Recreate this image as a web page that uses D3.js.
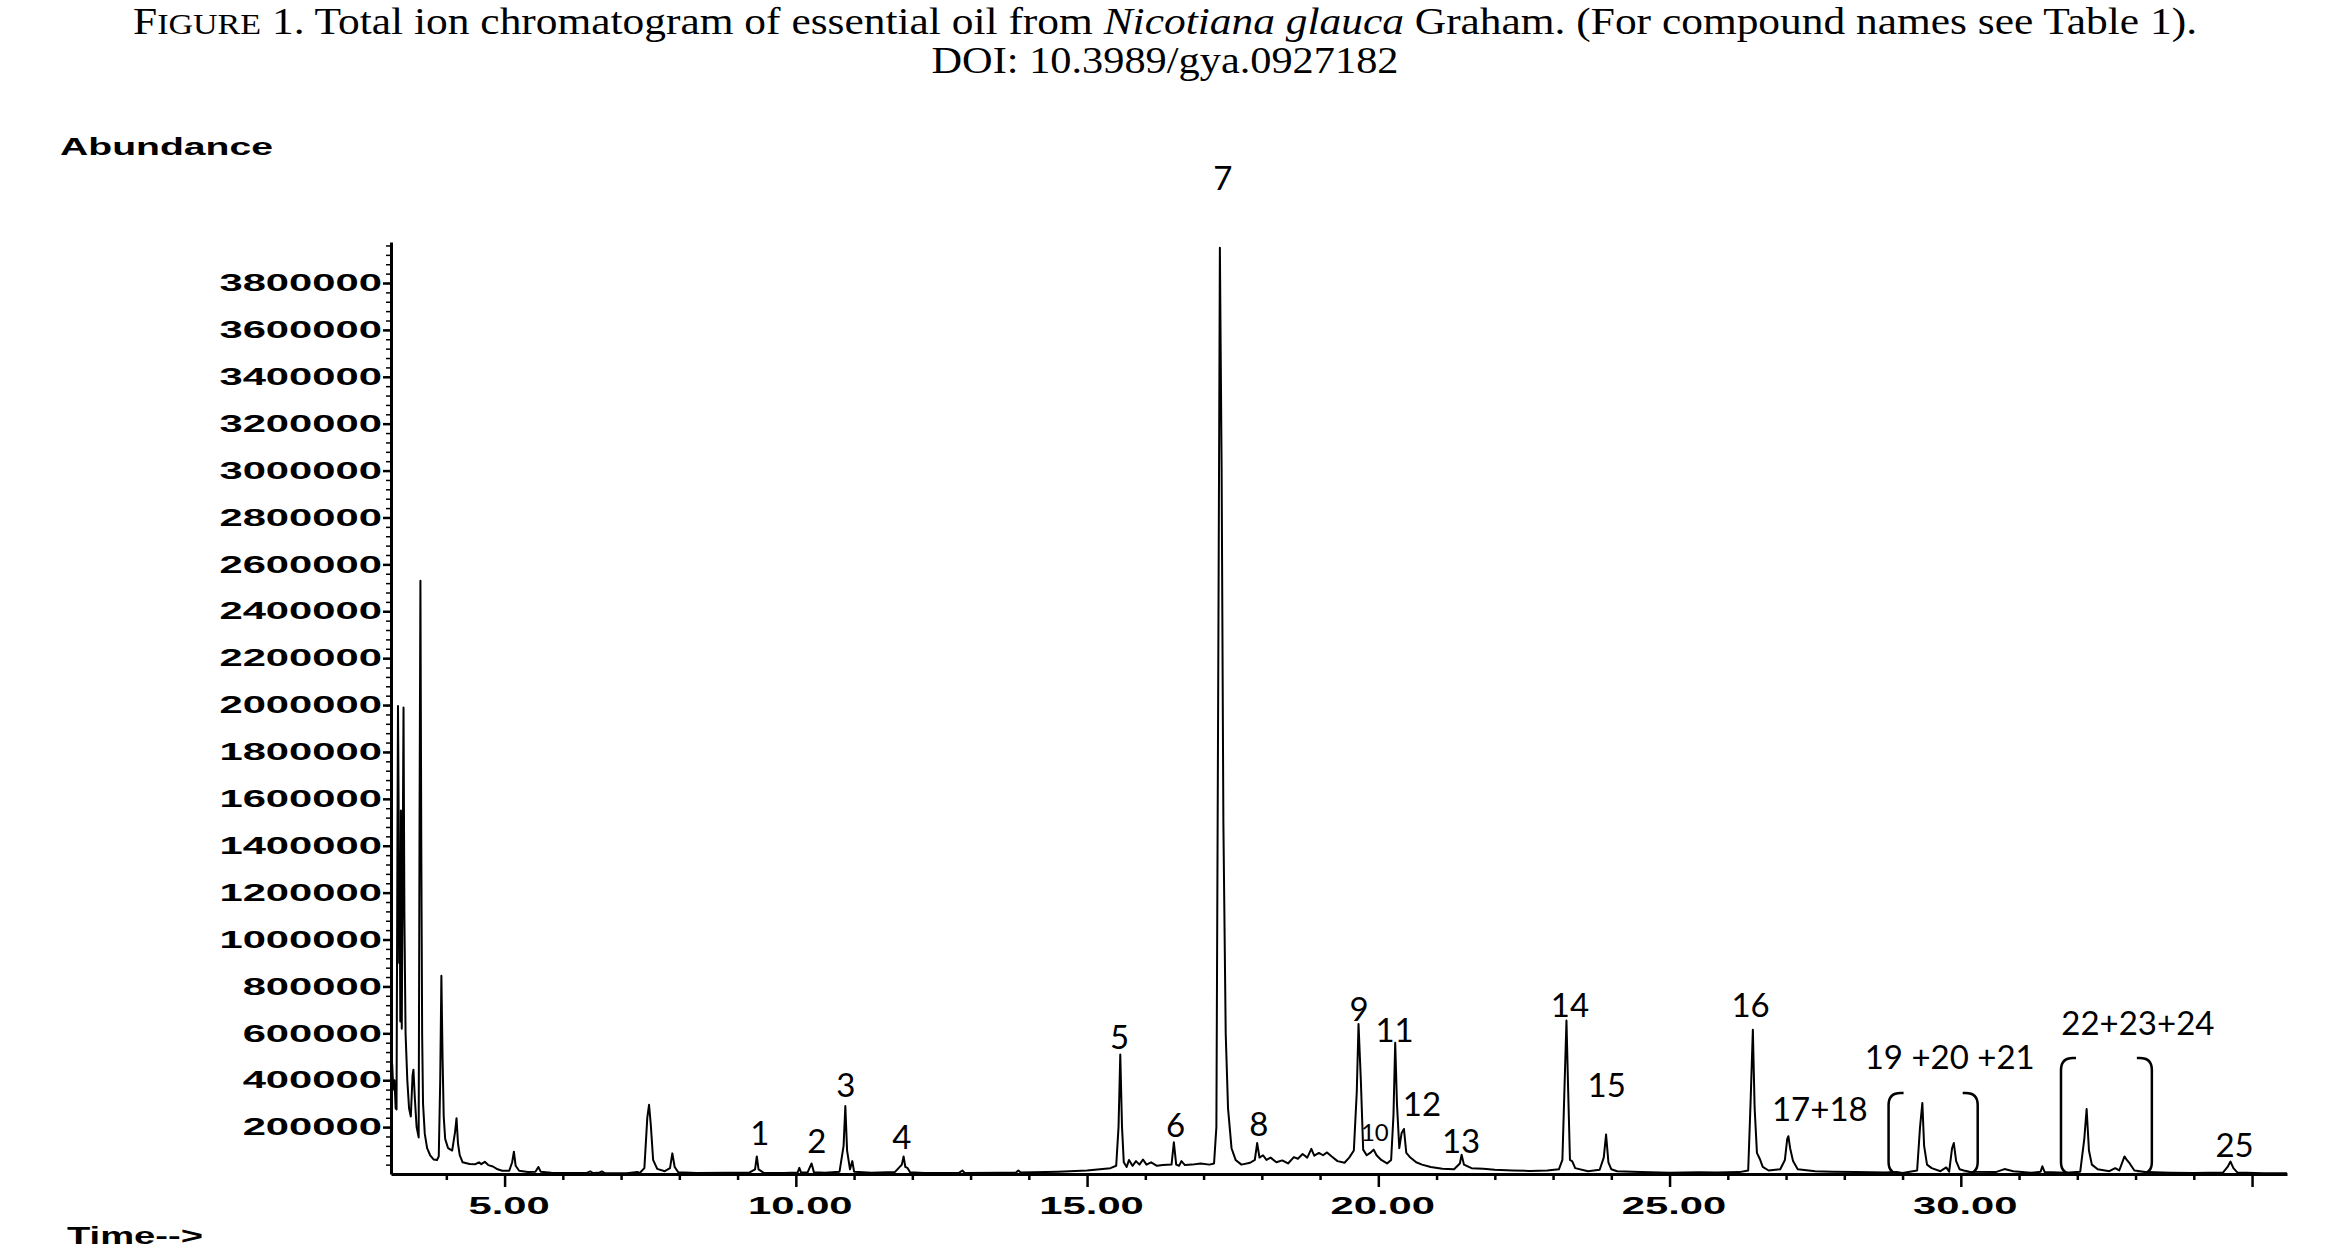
<!DOCTYPE html>
<html><head><meta charset="utf-8">
<script src="https://cdn.jsdelivr.net/npm/d3@7"></script>
<style>
html,body{margin:0;padding:0;background:#fff;}
svg{display:block;}
</style></head><body>
<svg id="chart" width="2330" height="1253"></svg>
<script>
// ---------- DATA ----------
const titleLine2 = "DOI: 10.3989/gya.0927182";
const yAxisTitle = "Abundance";
const xAxisTitle = "Time-->";
const yTickValues = [200000,400000,600000,800000,1000000,1200000,1400000,1600000,1800000,2000000,
  2200000,2400000,2600000,2800000,3000000,3200000,3400000,3600000,3800000];
const yAxisMax = 3975000;
const xDomain = [3.05, 35.6];
const xMajorTicks = [5,10,15,20,25,30,35];
const xTickLabels = ["5.00","10.00","15.00","20.00","25.00","30.00",""];
const xMinorTicks = [4,6,7,8,9,11,12,13,14,16,17,18,19,21,22,23,24,26,27,28,29,31,32,33,34];

// chromatogram trace: [retention time (min), abundance]
const chromatogram = [
 [3.05,420000],[3.07,470000],[3.09,360000],[3.11,400000],[3.13,280000],[3.145,275000],[3.16,1400000],
 [3.17,1996000],[3.18,1600000],[3.19,900000],[3.20,1200000],[3.21,650000],[3.22,1550000],[3.235,620000],
 [3.25,1300000],[3.265,1990000],[3.28,1100000],[3.30,600000],[3.33,400000],[3.36,280000],[3.39,245000],
 [3.42,420000],[3.435,445000],[3.46,320000],[3.49,200000],[3.525,156000],[3.54,1500000],[3.555,2530000],
 [3.57,1400000],[3.585,590000],[3.60,300000],[3.63,171000],[3.67,110000],[3.72,81000],[3.78,62000],
 [3.84,60000],[3.87,75000],[3.895,400000],[3.915,845000],[3.935,500000],[3.955,245000],[3.98,150000],
 [4.03,110000],[4.10,100000],[4.15,180000],[4.175,238000],[4.20,130000],[4.23,81000],[4.28,50000],
 [4.40,43000],[4.50,42000],[4.56,50000],[4.60,42000],[4.66,52000],[4.72,38000],[4.80,32000],[4.88,20000],
 [4.96,14000],[5.08,14000],[5.13,50000],[5.16,95000],[5.19,35000],[5.25,14000],[5.40,9000],[5.53,10000],
 [5.58,30000],[5.62,10000],[5.80,5000],[6.00,4000],[6.40,4000],[6.47,11000],[6.52,4000],[6.62,5000],
 [6.67,11000],[6.72,4000],[7.10,3000],[7.28,9000],[7.32,4000],[7.40,25000],[7.45,240000],[7.48,295000],
 [7.51,210000],[7.55,60000],[7.62,22000],[7.75,12000],[7.84,25000],[7.88,88000],[7.92,30000],[7.98,8000],
 [8.30,4000],[8.80,5000],[9.20,6000],[9.30,20000],[9.33,75000],[9.36,20000],[9.45,5000],[9.80,4000],
 [10.03,6000],[10.06,26000],[10.09,6000],[10.20,6000],[10.27,45000],[10.31,8000],[10.50,5000],[10.75,10000],
 [10.82,120000],[10.85,290000],[10.88,100000],[10.93,20000],[10.97,55000],[11.00,10000],[11.30,5000],
 [11.70,8000],[11.82,40000],[11.85,75000],[11.88,30000],[11.92,25000],[11.96,8000],[12.20,4000],
 [12.80,5000],[12.86,15000],[12.90,4000],[13.50,5000],[13.78,6000],[13.82,15000],[13.86,6000],
 [14.50,10000],[15.00,15000],[15.40,25000],[15.50,35000],[15.54,200000],[15.57,510000],[15.60,200000],
 [15.63,50000],[15.68,30000],[15.72,60000],[15.78,35000],[15.84,55000],[15.90,40000],[15.96,62000],
 [16.02,40000],[16.10,50000],[16.20,35000],[16.30,38000],[16.45,40000],[16.49,135000],[16.53,40000],
 [16.58,35000],[16.62,55000],[16.68,38000],[16.80,40000],[16.95,45000],[17.10,40000],[17.18,45000],
 [17.22,200000],[17.25,2000000],[17.28,3950000],[17.31,3000000],[17.34,1500000],[17.38,600000],
 [17.42,280000],[17.48,110000],[17.55,60000],[17.65,40000],[17.80,48000],[17.88,60000],[17.92,132000],
 [17.96,70000],[18.02,80000],[18.08,60000],[18.15,70000],[18.25,50000],[18.35,58000],[18.45,45000],
 [18.55,72000],[18.62,65000],[18.70,85000],[18.78,70000],[18.85,107000],[18.90,78000],[18.98,90000],
 [19.05,80000],[19.12,92000],[19.20,75000],[19.30,55000],[19.42,48000],[19.50,70000],[19.58,100000],
 [19.63,350000],[19.66,640000],[19.70,400000],[19.74,104000],[19.80,80000],[19.86,90000],[19.92,104000],
 [19.97,80000],[20.05,60000],[20.15,45000],[20.22,60000],[20.26,250000],[20.29,560000],[20.32,300000],
 [20.36,110000],[20.40,175000],[20.44,192000],[20.48,90000],[20.55,70000],[20.65,50000],[20.75,40000],
 [20.90,30000],[21.10,22000],[21.30,20000],[21.40,45000],[21.43,82000],[21.47,40000],[21.60,25000],
 [21.80,22000],[22.00,18000],[22.30,15000],[22.60,13000],[22.90,15000],[23.10,20000],[23.16,60000],
 [23.20,400000],[23.23,655000],[23.26,350000],[23.29,60000],[23.33,54000],[23.38,25000],[23.60,12000],
 [23.80,18000],[23.87,70000],[23.91,168000],[23.95,50000],[24.00,20000],[24.10,12000],[24.50,8000],
 [25.00,5000],[25.50,7000],[25.80,6000],[26.20,8000],[26.35,15000],[26.39,300000],[26.43,615000],
 [26.46,284000],[26.50,90000],[26.55,64000],[26.60,30000],[26.70,15000],[26.90,20000],[26.98,60000],
 [27.02,150000],[27.04,161000],[27.07,110000],[27.12,55000],[27.20,20000],[27.50,12000],[27.80,10000],
 [28.20,8000],[28.70,6000],[28.90,9000],[29.00,4000],[29.25,15000],[29.30,200000],[29.34,303000],
 [29.37,120000],[29.42,40000],[29.50,25000],[29.65,12000],[29.75,28000],[29.80,10000],[29.85,110000],
 [29.88,132000],[29.92,55000],[29.98,20000],[30.05,15000],[30.15,10000],[30.60,8000],[30.75,21000],
 [30.90,12000],[31.20,5000],[31.37,10000],[31.40,33000],[31.44,8000],[31.80,5000],[32.05,10000],
 [32.12,150000],[32.16,277000],[32.20,100000],[32.25,40000],[32.35,20000],[32.55,12000],[32.65,25000],
 [32.72,15000],[32.78,55000],[32.81,75000],[32.85,60000],[32.90,45000],[32.98,15000],[33.20,8000],
 [33.60,5000],[34.00,4000],[34.50,6000],[34.58,30000],[34.63,53000],[34.68,25000],[34.75,6000],
 [35.20,3000],[35.60,3000]
];

// peak annotations
const peakLabels = ["1","2","3","4","5","6","7","8","9","10","11","12","13","14","15","16",
  "17+18","19 +20 +21","22+23+24","25"];
const peakLabelTime = [9.38,10.36,10.86,11.82,15.56,16.52,17.33,17.95,19.67,19.94,20.28,20.75,21.42,
  23.29,23.92,26.39,27.58,29.81,33.04,34.70];
const peakLabelAbundance = [124000,90000,328000,107000,533000,158000,4197000,162000,653000,141000,
  563000,247000,90000,670000,328000,670000,226000,448000,593000,73000];
const smallLabels = ["10"];

// brackets around co-eluting groups
const bracketStart = [28.76, 31.72];
const bracketEnd = [30.29, 33.28];
const bracketTop = [345000, 495000];

// ---------- DRAW ----------
const svg = d3.select("#chart");
const x = d3.scaleLinear().domain(xDomain).range([391, 2287]);
const y = d3.scaleLinear().domain([0, 3800000]).range([1174, 283]);
const axisFont = "'Liberation Sans', Arial, sans-serif";

function stretch(sel, factor) {
  sel.each(function () {
    const w = this.getComputedTextLength();
    if (w > 0) d3.select(this).attr("textLength", w * factor).attr("lengthAdjust", "spacingAndGlyphs");
  });
}

// title
const title = svg.append("text").attr("x", 1165).attr("y", 34).attr("text-anchor", "middle")
  .attr("font-family", "'Liberation Serif', 'Times New Roman', serif").attr("font-size", 37).attr("fill", "#000");
title.append("tspan").text("F");
title.append("tspan").attr("font-size", 29).text("IGURE");
title.append("tspan").text(" 1. Total ion chromatogram of essential oil from ");
title.append("tspan").attr("font-style", "italic").text("Nicotiana glauca");
title.append("tspan").text(" Graham. (For compound names see Table 1).");
title.attr("textLength", 2064).attr("lengthAdjust", "spacingAndGlyphs");

svg.append("text").attr("x", 1165).attr("y", 73).attr("text-anchor", "middle")
  .attr("font-family", "'Liberation Serif', 'Times New Roman', serif").attr("font-size", 37).attr("fill", "#000")
  .attr("textLength", 467).attr("lengthAdjust", "spacingAndGlyphs")
  .text(titleLine2);

// axis titles
svg.append("text").attr("x", 60).attr("y", 155).attr("font-family", axisFont).attr("font-weight", "bold")
  .attr("font-size", 24).attr("fill", "#000").attr("textLength", 213).attr("lengthAdjust", "spacingAndGlyphs")
  .text(yAxisTitle);
svg.append("text").attr("x", 67).attr("y", 1244).attr("font-family", axisFont).attr("font-weight", "bold")
  .attr("font-size", 23).attr("fill", "#000").attr("textLength", 136).attr("lengthAdjust", "spacingAndGlyphs")
  .text(xAxisTitle);

// y axis
const yAxisScale = d3.scaleLinear().domain([0, yAxisMax]).range([y(0), y(yAxisMax)]);
const gyMinor = svg.append("g").attr("transform", `translate(${x.range()[0]},0)`)
  .call(d3.axisLeft(yAxisScale).tickValues(d3.range(40000, yAxisMax, 40000)).tickSize(5).tickFormat(""));
gyMinor.select(".domain").remove();
gyMinor.selectAll(".tick line").attr("stroke-width", 1.5).attr("stroke", "#000");

const gy = svg.append("g").attr("transform", `translate(${x.range()[0]},0)`)
  .call(d3.axisLeft(yAxisScale).tickValues(yTickValues).tickFormat(d3.format("d"))
    .tickSize(8).tickPadding(1).tickSizeOuter(0));
gy.select(".domain").attr("stroke-width", 3).attr("stroke", "#000");
gy.selectAll(".tick line").attr("stroke-width", 2.5).attr("stroke", "#000");
gy.selectAll(".tick text").attr("font-family", axisFont).attr("font-weight", "bold")
  .attr("font-size", 24).attr("fill", "#000");
stretch(gy.selectAll(".tick text"), 1.74);

// x axis
const baseY = y(0);
const gxMinor = svg.append("g").attr("transform", `translate(0,${baseY})`)
  .call(d3.axisBottom(x).tickValues(xMinorTicks).tickSize(6).tickFormat(""));
gxMinor.select(".domain").remove();
gxMinor.selectAll(".tick line").attr("stroke-width", 2.5).attr("stroke", "#000");

const gx = svg.append("g").attr("transform", `translate(0,${baseY})`)
  .call(d3.axisBottom(x).tickValues(xMajorTicks).tickSize(13).tickPadding(10).tickSizeOuter(0)
    .tickFormat((d, i) => xTickLabels[i]));
gx.select(".domain").attr("stroke-width", 3).attr("stroke", "#000");
gx.selectAll(".tick line").attr("stroke-width", 2.5).attr("stroke", "#000");
gx.selectAll(".tick text").attr("font-family", axisFont).attr("font-weight", "bold")
  .attr("font-size", 24).attr("fill", "#000").attr("dx", 4);
stretch(gx.selectAll(".tick text"), 1.74);

// trace
const line = d3.line().x(d => x(d[0])).y(d => y(d[1]));
svg.append("path").datum(chromatogram).attr("d", line)
  .attr("fill", "none").attr("stroke", "#000").attr("stroke-width", 2).attr("stroke-linejoin", "round");

// brackets
const stub = 15, r = 12;
bracketStart.forEach((t0, i) => {
  const xl = x(t0), xr = x(bracketEnd[i]), yt = y(bracketTop[i]), yb = y(0);
  const left = `M${xl + stub},${yt} L${xl + r},${yt} Q${xl},${yt} ${xl},${yt + r} L${xl},${yb - r} Q${xl},${yb} ${xl + r},${yb} L${xl + stub},${yb}`;
  const right = `M${xr - stub},${yt} L${xr - r},${yt} Q${xr},${yt} ${xr},${yt + r} L${xr},${yb - r} Q${xr},${yb} ${xr - r},${yb} L${xr - stub},${yb}`;
  svg.append("path").attr("d", left + " " + right).attr("fill", "none").attr("stroke", "#000").attr("stroke-width", 2.5);
});

// peak labels
svg.append("g").selectAll("text").data(peakLabels).join("text")
  .attr("x", (d, i) => x(peakLabelTime[i]))
  .attr("y", (d, i) => y(peakLabelAbundance[i]))
  .attr("text-anchor", "middle")
  .attr("font-family", "Lato, 'Noto Sans', sans-serif")
  .attr("font-size", d => smallLabels.includes(d) ? 24 : 33)
  .attr("fill", "#000")
  .text(d => d);
</script>
</body></html>
